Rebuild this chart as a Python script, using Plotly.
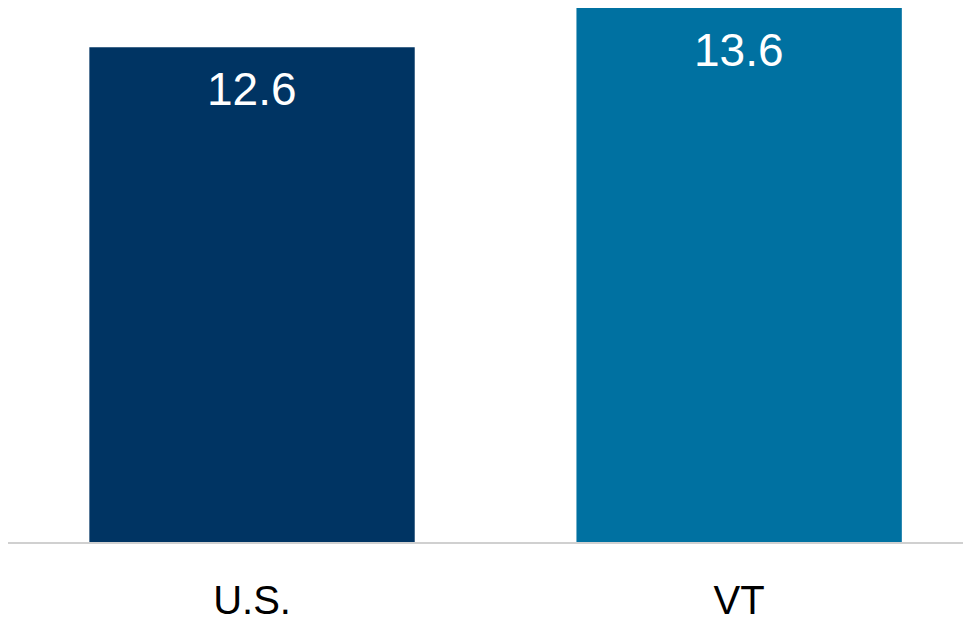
import plotly.graph_objects as go

categories = ["U.S.", "VT"]
values = [12.6, 13.6]
labels = ["12.6", "13.6"]
colors = ["#003463", "#0071A1"]

fig = go.Figure()
fig.add_trace(go.Bar(
    x=categories, y=values, marker_color=colors, width=0.668,
    marker_line_width=0, hoverinfo="skip",
))
for c, v, t in zip(categories, values, labels):
    fig.add_annotation(x=c, y=v, text=t, showarrow=False, yanchor="top",
                       yshift=-14, font=dict(family="Liberation Sans, Arial", size=46, color="white"))

fig.update_layout(
    width=963, height=614, margin=dict(l=0, r=0, t=0, b=80, pad=0),
    paper_bgcolor="white", plot_bgcolor="white", showlegend=False,
    bargap=0.33,
)
fig.update_xaxes(range=[-0.501, 1.476], showline=True, linecolor="#d0d0d0", linewidth=2,
                 showgrid=False, ticks="", tickfont=dict(family="Liberation Sans, Arial", size=40, color="black"),
                 ticklabelstandoff=22)
fig.update_yaxes(range=[0, 13.6], visible=False, showgrid=False, zeroline=False)
fig.write_html("out.html")
